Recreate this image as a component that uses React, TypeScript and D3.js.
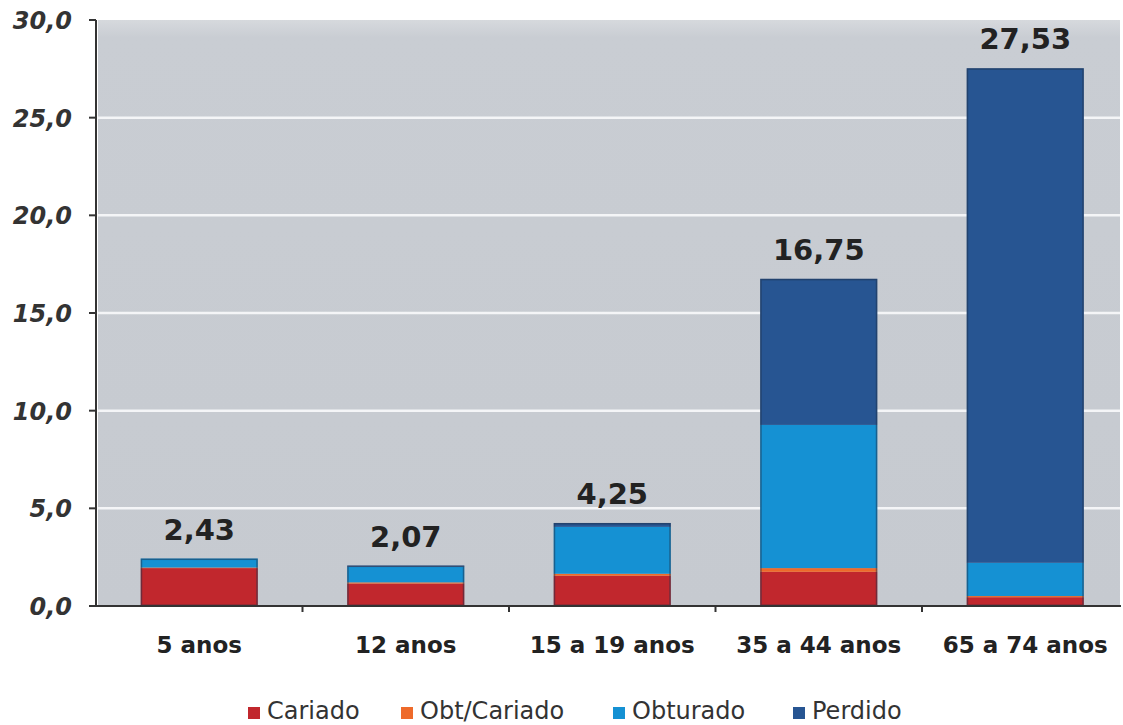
import React from "react";
import * as d3 from "d3";

const categories = ["5 anos", "12 anos", "15 a 19 anos", "35 a 44 anos", "65 a 74 anos"];
const seriesNames = ["Cariado", "Obt/Cariado", "Obturado", "Perdido"];
const cariado = [1.94, 1.15, 1.55, 1.75, 0.45];
const obtCariado = [0.03, 0.06, 0.1, 0.19, 0.06];
const obturado = [0.46, 0.8, 2.4, 7.33, 1.7];
const perdido = [0.0, 0.06, 0.2, 7.48, 25.32];
const totals = ["2,43", "2,07", "4,25", "16,75", "27,53"];
const yTicks = [0, 5, 10, 15, 20, 25, 30];
const colors = ["#c1272d", "#ee6a2a", "#1591d3", "#275592"];

const W = 1123;
const H = 725;
const x0 = 96;
const x1 = 1128.5;
const yTop = 20;
const yBot = 606;

export default function App() {
  const x = d3
    .scaleBand<string>()
    .domain(categories)
    .range([x0, x1])
    .paddingInner(0.433)
    .paddingOuter(0.2165);
  const y = d3.scaleLinear().domain([0, 30]).range([yBot, yTop]);

  const rows = categories.map((c, i) => ({
    cat: c,
    Cariado: cariado[i],
    "Obt/Cariado": obtCariado[i],
    Obturado: obturado[i],
    Perdido: perdido[i],
  }));
  const stacked = d3.stack<any>().keys(seriesNames)(rows);

  const legendItems = [
    { name: "Cariado", x: 248 },
    { name: "Obt/Cariado", x: 401 },
    { name: "Obturado", x: 613 },
    { name: "Perdido", x: 793 },
  ];

  const boundaries = categories
    .slice(1)
    .map((c) => (x(c) as number) - (x.step() * x.paddingInner()) / 2);

  return (
    <svg width={W} height={H} style={{ position: "absolute", left: 0, top: 0, background: "#fff" }}>
      <defs>
        <linearGradient id="bg" x1="0" y1="0" x2="0" y2="1">
          <stop offset="0" stopColor="#d6d9dd" />
          <stop offset="0.03" stopColor="#c9cdd3" />
          <stop offset="1" stopColor="#c6cad0" />
        </linearGradient>
      </defs>
      <rect x={x0 + 2} y={yTop} width={1120 - x0 - 2} height={yBot - yTop} fill="url(#bg)" />
      {yTicks
        .filter((t) => t > 0 && t < 30)
        .map((t) => (
          <line key={t} x1={x0 + 2} x2={1120} y1={y(t)} y2={y(t)} stroke="#f4f5f7" strokeWidth={2.5} />
        ))}
      {stacked.map((s, si) =>
        s.map((d, i) => {
          const h = y(d[0]) - y(d[1]);
          if (h <= 0) return null;
          return (
            <rect
              key={si + "-" + i}
              x={x(categories[i])}
              y={y(d[1])}
              width={x.bandwidth()}
              height={h}
              fill={colors[si]}
            />
          );
        })
      )}
      {categories.map((c, i) => {
        const top = stacked[3][i][1];
        return (
          <rect
            key={"o" + i}
            x={(x(c) as number) + 0.75}
            y={y(top) + 0.75}
            width={x.bandwidth() - 1.5}
            height={y(0) - y(top) - 1.5}
            fill="none"
            stroke="#1d2f4a"
            strokeOpacity={0.5}
            strokeWidth={1.5}
          />
        );
      })}
      {categories.map((c, i) => (
        <text
          key={"t" + i}
          x={(x(c) as number) + x.bandwidth() / 2}
          y={y(stacked[3][i][1]) - 19}
          textAnchor="middle"
          fontFamily="DejaVu Sans"
          fontWeight="bold"
          fontSize={29}
          fill="#222"
        >
          {totals[i]}
        </text>
      ))}
      {/* y axis */}
      <line x1={x0} x2={x0} y1={yTop} y2={yBot} stroke="#333" strokeWidth={2} />
      {yTicks.map((t) => (
        <g key={"yt" + t}>
          <line x1={x0 - 7} x2={x0} y1={y(t)} y2={y(t)} stroke="#333" strokeWidth={2} />
          <text
            x={72}
            y={y(t) + 9}
            textAnchor="end"
            fontFamily="DejaVu Sans"
            fontWeight="bold"
            fontStyle="italic"
            fontSize={24}
            fill="#333"
          >
            {t.toFixed(1).replace(".", ",")}
          </text>
        </g>
      ))}
      {/* x axis */}
      <line x1={x0 - 7} x2={1121} y1={yBot} y2={yBot} stroke="#333" strokeWidth={2} />
      {boundaries.map((b, i) => (
        <line key={"b" + i} x1={b} x2={b} y1={yBot} y2={yBot + 6} stroke="#333" strokeWidth={2} />
      ))}
      {categories.map((c) => (
        <text
          key={"xl" + c}
          x={(x(c) as number) + x.bandwidth() / 2}
          y={653}
          textAnchor="middle"
          fontFamily="DejaVu Sans"
          fontWeight="bold"
          fontSize={23}
          fill="#222"
        >
          {c}
        </text>
      ))}
      {legendItems.map((l) => {
        const si = seriesNames.indexOf(l.name);
        return (
          <g key={"lg" + l.name}>
            <rect x={l.x} y={707} width={12} height={12} fill={colors[si]} />
            <text x={l.x + 19} y={719} fontFamily="DejaVu Sans" fontSize={24} fill="#333">
              {l.name}
            </text>
          </g>
        );
      })}
    </svg>
  );
}
